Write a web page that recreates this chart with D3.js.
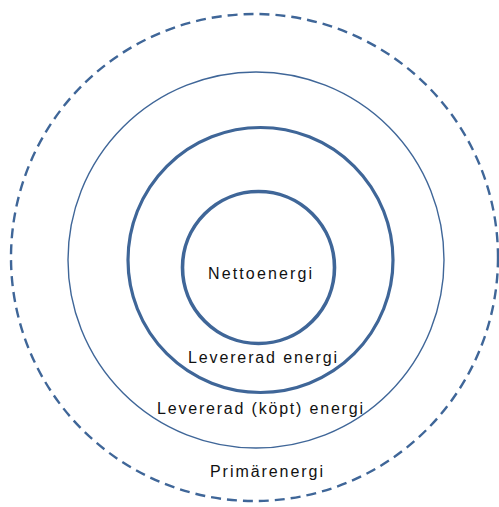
<!DOCTYPE html>
<html><head><meta charset="utf-8">
<script src="https://cdn.jsdelivr.net/npm/d3@7"></script>
<style>html,body{margin:0;padding:0;background:#fff;}svg{display:block;}</style>
</head><body>
<script>
// Data: energy levels, innermost first
const levels = ["Nettoenergi", "Levererad energi", "Levererad (köpt) energi", "Primärenergi"];

// Layout (not data)
const W = 499, H = 507;
const rings = [
  {cx: 258.5, cy: 267.5, r: 76,  w: 3.6, dash: null},
  {cx: 260.5, cy: 260,   r: 132.5, w: 3.2, dash: null},
  {cx: 256,   cy: 260,   r: 188, w: 1.4, dash: null},
  {cx: 254.5, cy: 257.5, r: 243.5, w: 2.4, dash: "10,6"}
];
const labelPos = [
  {x: 260, y: 279, len: 104},
  {x: 262.5, y: 363, len: 149},
  {x: 260, y: 414, len: 206},
  {x: 266.5, y: 477, len: 113}
];
const color = "#3f6698";

const svg = d3.select("body").append("svg").attr("width", W).attr("height", H);

svg.selectAll("circle.ring").data(levels).join("circle")
  .attr("class", "ring")
  .attr("cx", (d,i) => rings[i].cx)
  .attr("cy", (d,i) => rings[i].cy)
  .attr("r", (d,i) => rings[i].r)
  .attr("fill", "none")
  .attr("stroke", color)
  .attr("stroke-width", (d,i) => rings[i].w)
  .attr("stroke-dasharray", (d,i) => rings[i].dash);

svg.selectAll("text.lbl").data(levels).join("text")
  .attr("class", "lbl")
  .attr("x", (d,i) => labelPos[i].x)
  .attr("y", (d,i) => labelPos[i].y)
  .attr("text-anchor", "middle")
  .attr("font-family", "'Liberation Sans', Arial, sans-serif")
  .attr("font-size", 16)
  .attr("fill", "#111")
  .attr("textLength", (d,i) => labelPos[i].len)
  .attr("lengthAdjust", "spacing")
  .text(d => d);
</script>
</body></html>
